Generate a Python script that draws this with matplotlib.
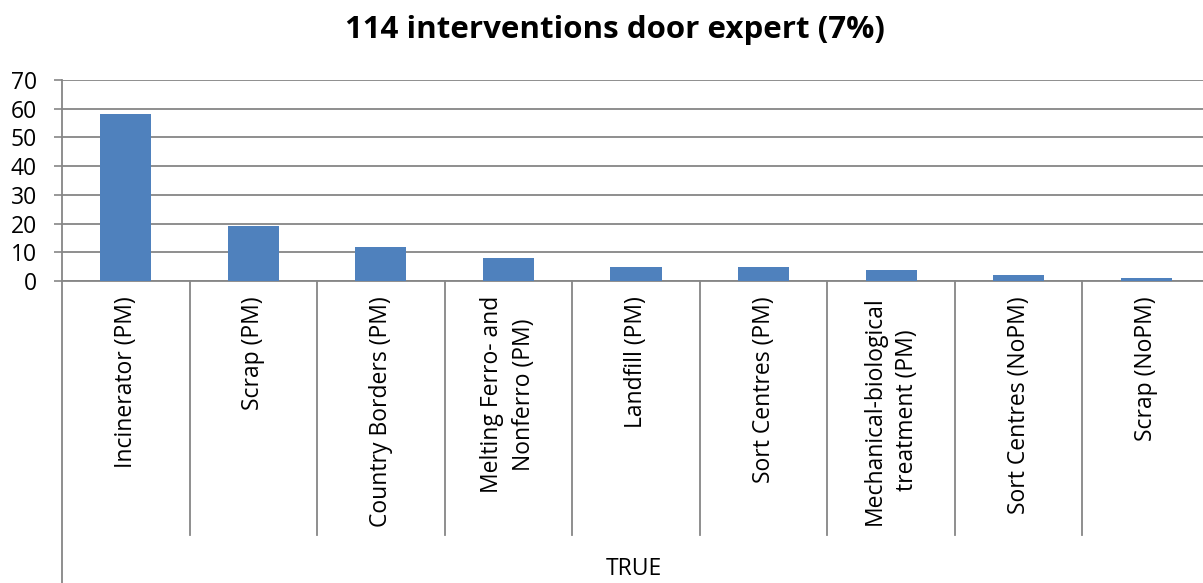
import numpy as np
import matplotlib
matplotlib.use('Agg')
import matplotlib.pyplot as plt
import matplotlib.transforms as mtransforms

categories = ['Incinerator (PM)', 'Scrap (PM)', 'Country Borders (PM)',
              'Melting Ferro- and\nNonferro (PM)', 'Landfill (PM)',
              'Sort Centres (PM)', 'Mechanical-biological\ntreatment (PM)',
              'Sort Centres (NoPM)', 'Scrap (NoPM)']
values = [58, 19, 12, 8, 5, 5, 4, 2, 1]
yticks = [0, 10, 20, 30, 40, 50, 60, 70]
group_label = 'TRUE'
title = '114 interventions door expert (7%)'

plt.rcParams['font.family'] = ['Open Sans', 'DejaVu Sans']

W, H = 1203, 583
dpi = 100.0
fig = plt.figure(figsize=(W / dpi, H / dpi), dpi=dpi)
fig.patch.set_facecolor('white')

# axes box in pixels: x 62..1210, y 80..281 (from top)
x0, x1, ytop, ybot = 62, 1210, 80, 281
ax = fig.add_axes([x0 / W, 1 - ybot / H, (x1 - x0) / W, (ybot - ytop) / H])

grey = '#868686'
x = np.arange(len(categories))
ax.bar(x, values, width=0.4, color='#4F81BD', zorder=3)
ax.set_xlim(-0.5, len(categories) - 0.5)
ax.set_ylim(0, 70)
ax.set_yticks(yticks)
ax.set_yticklabels([str(t) for t in yticks], fontsize=16.5)
ax.tick_params(axis='y', length=6, width=1.2, color=grey, pad=12)
ax.set_xticks([])
ax.grid(axis='y', color=grey, linewidth=1.3, zorder=0)
for s in ['top', 'right']:
    ax.spines[s].set_visible(False)
for s in ['left', 'bottom']:
    ax.spines[s].set_color(grey)
    ax.spines[s].set_linewidth(1.3)

px = 1.0 / (ybot - ytop)  # one pixel in axes-y units
trans = mtransforms.blended_transform_factory(ax.transData, ax.transAxes)

# category separators below the axis
for i in range(1, len(categories)):
    ax.plot([i - 0.5, i - 0.5], [0, -(535 - ybot) * px], color=grey,
            linewidth=1.3, transform=trans, clip_on=False)
ax.plot([-0.5, -0.5], [0, -(H - ybot + 5) * px], color=grey,
        linewidth=1.3, transform=trans, clip_on=False)

for i, lab in enumerate(categories):
    ax.text(i, -(296 - ybot) * px, lab, rotation=90, ha='center', va='top',
            multialignment='center', fontsize=16.5, transform=trans,
            linespacing=1.45)

ax.text((len(categories) - 1) / 2 - 0.02, -(569 - ybot) * px, group_label,
        ha='center', va='center', fontsize=16.5, transform=trans)

fig.text(615 / W, 1 - 30 / H, title, ha='center', va='center',
         fontsize=22.5, fontweight='bold')

fig.savefig('out.png', dpi=dpi)
